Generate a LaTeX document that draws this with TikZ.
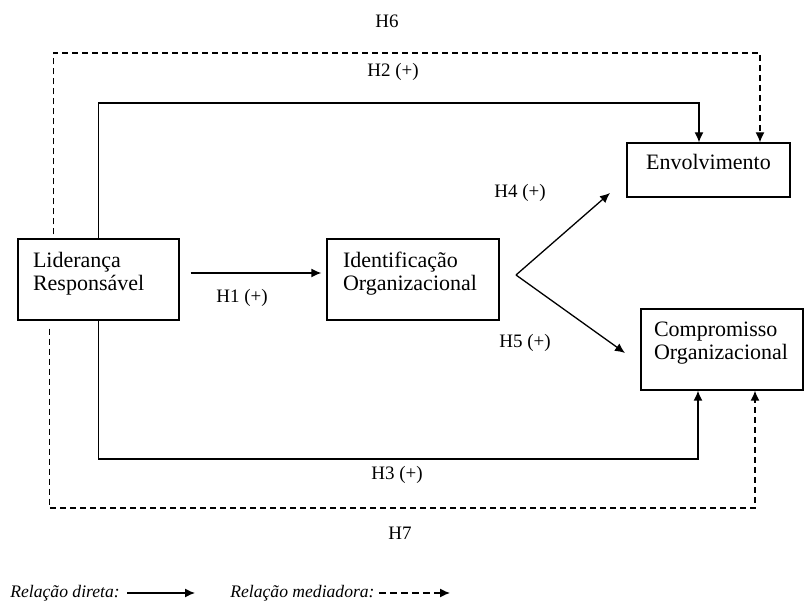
\documentclass[tikz,border=0pt]{standalone}
\usepackage{fontspec}
\setmainfont{Liberation Serif}
\usetikzlibrary{arrows.meta}

\tikzstyle{construct}=[
    draw=black,
    line width=0.65pt,
    inner ysep=0pt,
    font=\fontsize{11}{11.5}\selectfont
]
\tikzstyle{hlabel}=[
    inner sep=0pt,
    font=\fontsize{9.5}{11}\selectfont
]
\tikzstyle{legend}=[
    inner sep=0pt,
    font=\fontsize{8.8}{10}\selectfont\itshape
]
\tikzstyle{direct}=[line width=0.65pt]
\tikzstyle{mediated}=[line width=0.65pt, dash pattern=on 3pt off 2pt]

% box text: height, width, top gap, text
\newcommand{\boxtext}[4]{\parbox[c][#1][t]{#2}{\vspace*{#3}#4}}

\begin{document}
\begin{tikzpicture}[>={Latex[length=5pt,width=4.5pt]}, x=0.5pt, y=-0.5pt]
	\useasboundingbox (0,0) rectangle (804,603);

	% CONSTRUCTS
	\node (lider) [construct, inner xsep=7.5pt] at (98.5,279.5)
		{\boxtext{40.5pt}{65.5pt}{6.5pt}{Liderança\\Responsável}};
	\node (ident) [construct, inner xsep=8pt] at (413,279.5)
		{\boxtext{40.5pt}{70pt}{6.5pt}{Identificação\\Organizacional}};
	\node (envol) [construct, inner xsep=0pt] at (708.5,170)
		{\boxtext{27pt}{81.5pt}{5.5pt}{\centering Envolvimento}};
	\node (compr) [construct, inner xsep=6.5pt] at (722,349.5)
		{\boxtext{40.5pt}{68pt}{6.3pt}{Compromisso\\Organizacional}};

	% HYPOTHESES
	\node (h6lab) [hlabel] at (387,21) {H6};
	\node (h2lab) [hlabel] at (393,72) {H2 (+)};
	\node (h1lab) [hlabel] at (242,298) {H1 (+)};
	\node (h4lab) [hlabel] at (520,193) {H4 (+)};
	\node (h5lab) [hlabel] at (525,343) {H5 (+)};
	\node (h3lab) [hlabel] at (397,475) {H3 (+)};
	\node (h7lab) [hlabel] at (400,533) {H7};

	% corners and free ends
	\coordinate (h2turn) at (699,103);
	\coordinate (h3turn) at (698,459);
	\coordinate (h6turn) at (760,53);
	\coordinate (h7turn) at (755,508);
	\coordinate (fork) at (516,275);
	\coordinate (h4tip) at (610,193);
	\coordinate (h5tip) at (625,353);

	% Direct connections around
	\draw[->, direct] (lider.north) |- (h2turn) -- (h2turn |- envol.north);
	\draw[->, direct] (lider.south) |- (h3turn) -- (h3turn |- compr.south);

	% Mediated connections around
	\draw[->, mediated] ([xshift=18pt,yshift=2pt]lider.north west) |- (h6turn) -- (h6turn |- envol.north);
	\draw[->, mediated] ([xshift=16pt,yshift=-4pt]lider.south west) |- (h7turn) -- (h7turn |- compr.south);

	\path[->]
	% Leadership to identification
	([yshift=3.25pt]lider.east) edge[direct, shorten <=5.5pt, shorten >=2.5pt] ([yshift=3.25pt]ident.west)

	% Identification to outcomes
	(fork) edge[direct] (h4tip)
	(fork) edge[direct] (h5tip)
	;

	% LEGEND
	\node (legdirect) [legend, anchor=west] at (10,593) {Relação direta:};
	\node (legmed) [legend, anchor=west] at (230,593) {Relação mediadora:};
	\coordinate (legdirtip) at (195,593);
	\coordinate (legmedtip) at (450,593);
	\path[->]
	(legdirect.east) edge[direct, shorten <=3.5pt] (legdirtip)
	(legmed.east) edge[direct, dash pattern=on 3.5pt off 2pt, shorten <=2pt] (legmedtip)
	;
\end{tikzpicture}
\end{document}
